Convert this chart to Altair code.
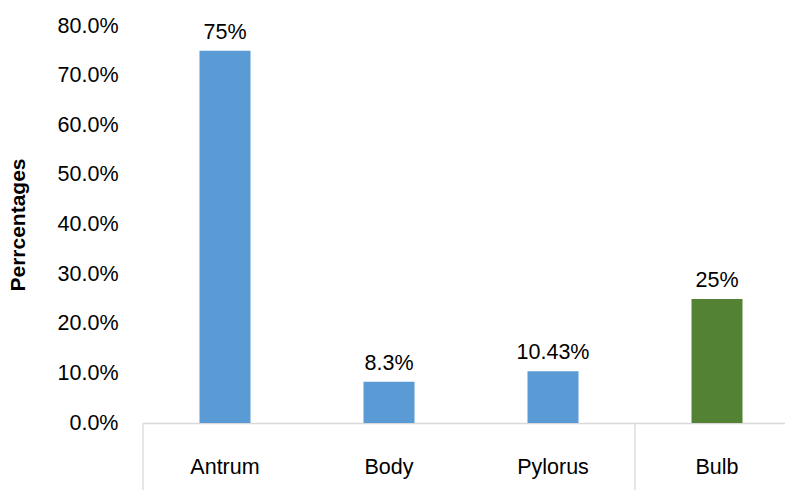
import altair as alt
import pandas as pd

categories = ["Antrum", "Body", "Pylorus", "Bulb"]
values = [0.75, 0.083, 0.1043, 0.25]
labels = ["75%", "8.3%", "10.43%", "25%"]
groups = ["a", "a", "a", "b"]
separators = ["Antrum", "Bulb"]

df = pd.DataFrame({"cat": categories, "val": values, "lab": labels, "grp": groups})
sep = pd.DataFrame({"cat": separators})

FONT = "Liberation Sans"
xscale = alt.Scale(domain=categories, range=[0, 656], paddingInner=0, paddingOuter=0)
yscale = alt.Scale(domain=[0, 0.8])

x = alt.X("cat:N", scale=xscale, sort=categories,
          axis=alt.Axis(title=None, labelAngle=0, ticks=False, domainColor="#d9d9d9",
                        domainWidth=1.3, labelPadding=33, labelFontSize=21.5,
                        labelFont=FONT, labelColor="#000000"))

bars = alt.Chart(df).mark_bar(size=51).encode(
    x=x,
    y=alt.Y("val:Q", scale=yscale,
            axis=alt.Axis(title="Perrcentages", format=".1%", values=[0, .1, .2, .3, .4, .5, .6, .7, .8],
                          domain=False, ticks=False, grid=False, labelPadding=25,
                          labelFontSize=21.5, labelFont=FONT, labelColor="#000000",
                          titleFont=FONT, titleFontSize=21, titleFontWeight="bold",
                          titleColor="#000000", titlePadding=29)),
    color=alt.Color("grp:N", scale=alt.Scale(domain=["a", "b"], range=["#5B9BD5", "#548235"]),
                    legend=None),
)

text = alt.Chart(df).mark_text(baseline="alphabetic", dy=-12, fontSize=21.5, font=FONT,
                               color="#000000").encode(
    x=alt.X("cat:N", scale=xscale, sort=categories),
    y=alt.Y("val:Q", scale=yscale),
    text="lab:N",
)

rules = alt.Chart(sep).mark_rule(color="#d9d9d9", strokeWidth=1.3).encode(
    x=alt.X("cat:N", scale=xscale, sort=categories, bandPosition=0),
    y=alt.value(397),
    y2=alt.value(470),
)

chart = alt.layer(bars, text, rules).properties(
    width=642, height=397,
    background="white",
    autosize=alt.AutoSizeParams(type="none"),
    padding={"left": 143, "top": 26, "right": 0, "bottom": 67},
).configure_view(stroke=None)

chart.save("out.html", embed_options={"renderer": "svg", "actions": False})
